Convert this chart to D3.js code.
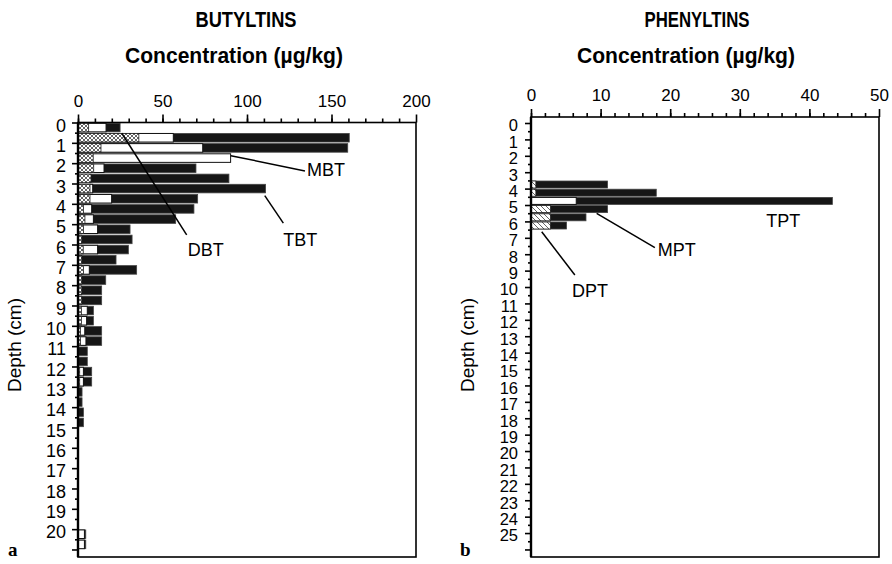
<!DOCTYPE html>
<html>
<head>
<meta charset="utf-8">
<script src="https://cdn.jsdelivr.net/npm/d3@7"></script>
<style>
  body { margin: 0; background: #fff; }
  svg { display: block; }
</style>
</head>
<body>
<script>
// butyltins, one row per 0.5 cm slice (depth = top of slice, cm)
const butylDepth = [0, 0.5, 1, 1.5, 2, 2.5, 3, 3.5, 4, 4.5, 5, 5.5, 6, 6.5, 7, 7.5, 8, 8.5, 9, 9.5,
    10, 10.5, 11, 11.5, 12, 12.5, 13, 13.5, 14, 14.5, 20, 20.5];
const tbt = [24.9, 160.5, 159.6, 0, 69.8, 89.3, 111, 70.8, 68.6, 57.8, 30.8, 32, 29.8, 22.5, 34.7, 16.4, 14, 14, 9.1, 9.1,
    14, 14, 5.5, 5.5, 8.1, 8.1, 2.4, 2.4, 3.2, 3.2, 4.6, 4.6];
const mbt = [16.6, 56.4, 73.8, 90.3, 15.4, 0, 8.7, 19.9, 8.1, 9.1, 11.6, 0, 11.6, 0, 6.7, 0, 0, 0, 5.5, 5.1,
    4, 4.7, 0, 0, 3.2, 3.2, 0, 0, 0, 0, 3.8, 3.8];
const dbt = [6.3, 36, 13.6, 9, 9.3, 7.7, 7.1, 7.1, 3.2, 4.1, 3.2, 2.2, 3.1, 2.2, 3.2, 2.2, 2.2, 2.2, 2, 2,
    1.5, 1.5, 0, 0, 1, 1, 0, 0, 0, 0, 0, 0];

// phenyltins
const phenylDepth = [3.5, 4, 4.5, 5, 5.5, 6];
const tpt = [11, 18, 43.3, 11, 7.9, 5.1];
const mpt = [0, 0, 6.5, 0, 0, 0];
const dpt = [0.7, 0.7, 0, 2.8, 2.8, 2.8];

const butylTicks = [0, 50, 100, 150, 200];
const phenylTicks = [0, 10, 20, 30, 40, 50];

var svg = d3.select('body')
    .append('svg')
    .attr('width', 892)
    .attr('height', 564)
    .style('font-family', '"Liberation Sans", Arial, sans-serif');

var defs = svg.append('defs');

var cross = defs.append('pattern')
    .attr('id', 'cross')
    .attr('patternUnits', 'userSpaceOnUse')
    .attr('width', 4)
    .attr('height', 4);
cross.append('rect').attr('width', 4).attr('height', 4).attr('fill', '#fff');
cross.append('path')
    .attr('d', 'M0,0L4,4M4,0L0,4')
    .attr('stroke', '#555')
    .attr('stroke-width', 0.9);

var diag = defs.append('pattern')
    .attr('id', 'diag')
    .attr('patternUnits', 'userSpaceOnUse')
    .attr('width', 5)
    .attr('height', 5);
diag.append('rect').attr('width', 5).attr('height', 5).attr('fill', '#fff');
diag.append('path')
    .attr('d', 'M0,0L5,5M-1,4L1,6M4,-1L6,1')
    .attr('stroke', '#666')
    .attr('stroke-width', 1);

function panel(p) {
    var g = svg.append('g');

    var x = d3.scaleLinear().domain([0, p.xmax]).range([p.left, p.right]);
    var y = d3.scaleLinear().domain([0, p.ymax]).range([p.yzero, p.bottom]);

    var rows = p.depth.map(function (d, i) {
        return {depth: d, t: p.t[i], m: p.m[i], d: p.d[i]};
    });

    function barY(d) { return y(d.depth) + p.gap; }
    function barH(d) { return y(d.depth + 0.5) - y(d.depth) - 2 * p.gap; }

    // black (tri-), drawn first
    g.selectAll('.tri')
        .data(rows.filter(function (d) { return d.t > 0; }))
        .enter()
        .append('rect')
        .attr('x', x(0))
        .attr('y', barY)
        .attr('width', function (d) { return x(d.t) - x(0); })
        .attr('height', barH)
        .attr('fill', '#161616')
        .attr('stroke', '#444')
        .attr('stroke-width', 0.8);

    // white (mono-)
    g.selectAll('.mono')
        .data(rows.filter(function (d) { return d.m > 0; }))
        .enter()
        .append('rect')
        .attr('x', x(0))
        .attr('y', barY)
        .attr('width', function (d) { return x(d.m) - x(0); })
        .attr('height', barH)
        .attr('fill', '#fff')
        .attr('stroke', '#111')
        .attr('stroke-width', 1);

    // hatched (di-)
    g.selectAll('.di')
        .data(rows.filter(function (d) { return d.d > 0; }))
        .enter()
        .append('rect')
        .attr('x', x(0))
        .attr('y', barY)
        .attr('width', function (d) { return x(d.d) - x(0); })
        .attr('height', barH)
        .attr('fill', 'url(#' + p.pattern + ')')
        .attr('stroke', '#222')
        .attr('stroke-width', 0.8);

    // frame
    g.append('rect')
        .attr('x', p.left)
        .attr('y', p.top)
        .attr('width', p.right - p.left)
        .attr('height', p.bottom - p.top)
        .attr('fill', 'none')
        .attr('stroke', '#000')
        .attr('stroke-width', 1.6);
    g.append('line')
        .attr('x1', p.left).attr('x2', p.left)
        .attr('y1', p.top).attr('y2', p.bottom)
        .attr('stroke', '#000')
        .attr('stroke-width', 2.4);

    // top axis, major and minor ticks
    var xMajor = g.append('g')
        .attr('transform', 'translate(0,' + p.top + ')')
        .call(d3.axisTop(x).tickValues(p.xTicks).tickSize(8).tickPadding(8));
    var xMinor = g.append('g')
        .attr('transform', 'translate(0,' + p.top + ')')
        .call(d3.axisTop(x).tickValues(d3.range(0, p.xmax, p.xMinor)).tickSize(4).tickFormat(''));

    var yMajor = g.append('g')
        .attr('transform', 'translate(' + p.left + ',0)')
        .call(d3.axisLeft(y).tickValues(d3.range(0, p.lastTick + 1)).tickSize(6).tickPadding(p.yPad)
            .tickFormat(function (d) { return d <= p.lastLabel ? d : ''; }));
    var yMinor = g.append('g')
        .attr('transform', 'translate(' + p.left + ',0)')
        .call(d3.axisLeft(y).tickValues(d3.range(0.5, p.lastTick, 1)).tickSize(3).tickFormat(''));

    [xMajor, xMinor, yMajor, yMinor].forEach(function (a) {
        a.select('.domain').remove();
        a.selectAll('.tick line').attr('stroke', '#000').attr('stroke-width', 1.6);
    });
    xMajor.selectAll('text').attr('font-size', '17px').attr('fill', '#000')
        .attr('font-family', '"Liberation Sans", Arial, sans-serif');
    yMajor.selectAll('text').attr('font-size', p.yFont).attr('fill', '#000').attr('dy', '0.48em')
        .attr('font-family', '"Liberation Sans", Arial, sans-serif');

    // leader lines and compound names
    p.notes.forEach(function (n) {
        if (n.line) {
            g.append('line')
                .attr('x1', x(n.line[0])).attr('y1', y(n.line[1]))
                .attr('x2', x(n.line[2])).attr('y2', y(n.line[3]))
                .attr('stroke', '#000')
                .attr('stroke-width', 1.5);
        }
        g.append('text')
            .attr('x', x(n.at[0]))
            .attr('y', y(n.at[1]))
            .attr('dy', '0.35em')
            .attr('font-size', '18px')
            .text(n.name);
    });

    // titles
    g.append('text')
        .attr('x', p.titleX)
        .attr('y', 27)
        .attr('text-anchor', 'middle')
        .attr('font-size', '22px')
        .attr('font-weight', 'bold')
        .attr('textLength', p.titleW)
        .attr('lengthAdjust', 'spacingAndGlyphs')
        .text(p.title);
    g.append('text')
        .attr('x', p.unitX)
        .attr('y', 63)
        .attr('text-anchor', 'middle')
        .attr('font-size', '22px')
        .attr('font-weight', 'bold')
        .attr('textLength', 218)
        .attr('lengthAdjust', 'spacingAndGlyphs')
        .text('Concentration  (\u00b5g/kg)');
    g.append('text')
        .attr('transform', 'translate(' + p.depthX + ',345) rotate(-90)')
        .attr('text-anchor', 'middle')
        .attr('dy', '0.35em')
        .attr('font-size', '19px')
        .text('Depth (cm)');
    g.append('text')
        .attr('x', p.letterX)
        .attr('y', 556)
        .attr('font-family', '"Liberation Serif", "Times New Roman", serif')
        .attr('font-weight', 'bold')
        .attr('font-size', '19px')
        .text(p.letter);
}

panel({
    depth: butylDepth, t: tbt, m: mbt, d: dbt, pattern: 'cross',
    xmax: 200, xTicks: butylTicks, xMinor: 10,
    left: 78, right: 416, top: 122.5, bottom: 557,
    ymax: 21.37, yzero: 122.5, gap: 0.8,
    lastTick: 21, lastLabel: 20, yPad: 6, yFont: '18px',
    title: 'BUTYLTINS', titleX: 246, titleW: 101, unitX: 234, depthX: 14,
    letter: 'a', letterX: 8,
    notes: [
        {name: 'MBT', line: [90.4, 1.63, 134.3, 2.38], at: [135.5, 2.34]},
        {name: 'TBT', line: [110.5, 3.6, 121.5, 4.95], at: [121.5, 5.78]},
        {name: 'DBT', line: [25.9, 0.53, 64.3, 5.53], at: [65, 6.27]}
    ]
});

panel({
    depth: phenylDepth, t: tpt, m: mpt, d: dpt, pattern: 'diag',
    xmax: 50, xTicks: phenylTicks, xMinor: 2,
    left: 531, right: 879, top: 117, bottom: 557,
    ymax: 26.46, yzero: 123, gap: 0.6,
    lastTick: 26, lastLabel: 25, yPad: 7, yFont: '16.5px',
    title: 'PHENYLTINS', titleX: 697, titleW: 105, unitX: 686, depthX: 467,
    letter: 'b', letterX: 460,
    notes: [
        {name: 'MPT', line: [9.43, 5.51, 17.8, 7.6], at: [18.2, 7.74]},
        {name: 'DPT', line: [1.54, 6.63, 6.3, 9.27], at: [5.9, 10.24]},
        {name: 'TPT', at: [33.8, 5.98]}
    ]
});
</script>
</body>
</html>
